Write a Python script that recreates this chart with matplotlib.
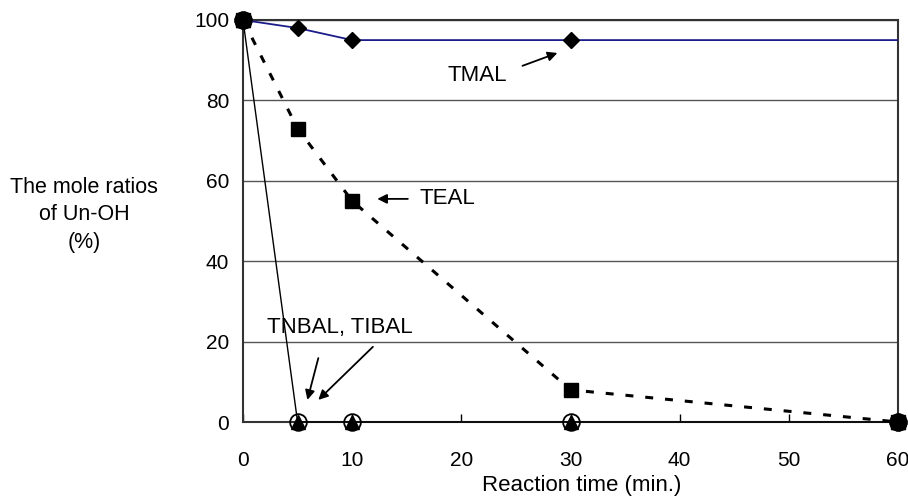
import matplotlib
matplotlib.use("Agg")
import matplotlib.pyplot as plt

plt.rcParams['font.family'] = ['Liberation Sans', 'DejaVu Sans']

# data
time = [0, 5, 10, 30, 60]
tmal = [100, 98, 95, 95, 95]
teal = [100, 73, 55, 8, 0]
tnbal = [100, 0, 0, 0, 0]
tibal = [100, 0, 0, 0, 0]
xticks = [0, 10, 20, 30, 40, 50, 60]
yticks = [0, 20, 40, 60, 80, 100]

fig = plt.figure(figsize=(9.08, 5.04), dpi=100)
ax = fig.add_axes([243/908, 82/504, 655/908, 402/504])

ax.set_xlim(0, 60)
ax.set_ylim(0, 100)
ax.set_axisbelow(True)
ax.yaxis.grid(True, color='#555555', lw=1.0)

# TNBAL / TIBAL: thin black line, open circles and filled triangles
ax.plot(time, tnbal, color='black', lw=1.0, marker='o', ms=12,
        mfc='none', mec='black', mew=1.3, zorder=5, clip_on=False)
ax.plot(time, tibal, color='black', lw=0, marker='^', ms=10,
        mfc='black', mec='black', zorder=6, clip_on=False)
# TEAL: thick dotted line, squares
ax.plot(time, teal, color='black', lw=2.2, ls=(0, (2.6, 3.9)),
        marker='s', ms=10, mfc='black', mec='black', zorder=7, clip_on=False)
# TMAL: navy line, diamonds (the one on the right edge is not visible)
ax.plot(time, tmal, color='#1c1c8a', lw=1.3, marker='D', ms=8,
        mfc='black', mec='black', zorder=8, markevery=[0, 1, 2, 3])
# big dots where the series meet
ax.plot(time[0], tnbal[0], marker='o', ms=12, color='black', zorder=9, clip_on=False)
ax.plot(time[-1], tnbal[-1], marker='o', ms=12, color='black', zorder=9, clip_on=False)

ax.set_xticks(xticks)
ax.set_yticks(yticks)
ax.tick_params(axis='x', direction='in', length=6, width=1, pad=21, labelsize=15)
ax.tick_params(axis='y', length=0, pad=10, labelsize=15)
for s in ax.spines.values():
    s.set_linewidth(1.5)
    s.set_color('#333333')

arr = dict(arrowstyle='-|>', color='black', lw=1.3, mutation_scale=14,
           shrinkA=0, shrinkB=0)
ax.text(21.5, 86.3, 'TMAL', fontsize=16, ha='center', va='center')
ax.annotate('', xy=(28.8, 91.8), xytext=(25.6, 88.6), arrowprops=arr)
ax.text(16.2, 55.5, 'TEAL', fontsize=16, ha='left', va='center')
ax.annotate('', xy=(12.3, 55.5), xytext=(15.1, 55.5), arrowprops=arr)
ax.text(8.9, 23.4, 'TNBAL, TIBAL', fontsize=16, ha='center', va='center')
ax.annotate('', xy=(5.9, 5.5), xytext=(6.9, 15.9), arrowprops=arr)
ax.annotate('', xy=(6.9, 5.5), xytext=(11.9, 18.7), arrowprops=arr)

fig.text(582/908, 1 - 486/504, 'Reaction time (min.)', fontsize=16,
         ha='center', va='center')
fig.text(84/908, 1 - 215/504, 'The mole ratios\nof Un-OH\n(%)', fontsize=15.5,
         ha='center', va='center', multialignment='center', linespacing=1.4)

fig.savefig('out.png', dpi=100)
